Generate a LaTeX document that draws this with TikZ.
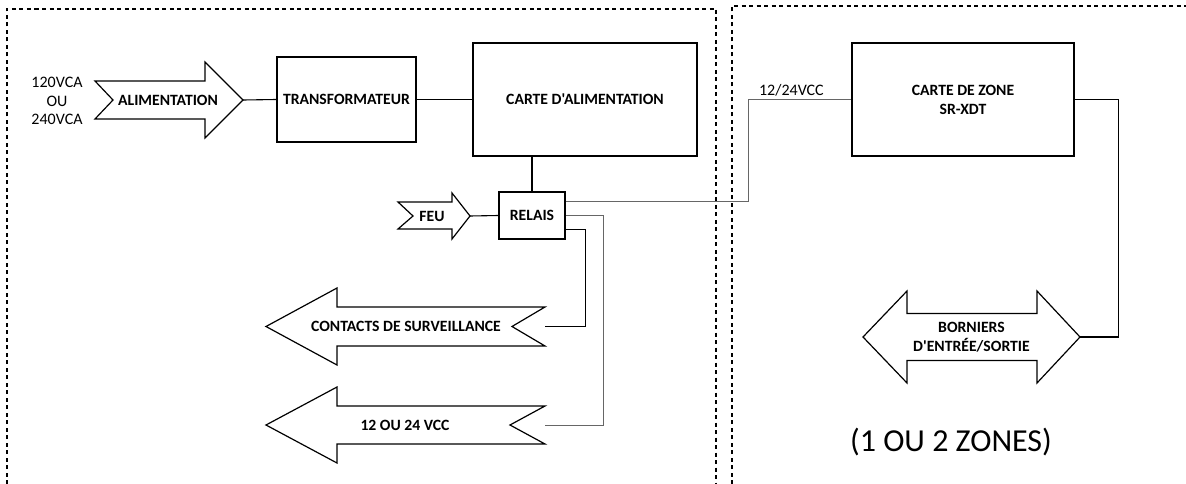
\documentclass[tikz,border=0pt]{standalone}
\usepackage{fontspec}
\setmainfont{Carlito}[Ligatures=TeXOff]
\usetikzlibrary{positioning, calc}

\begin{document}
\begin{tikzpicture}[x=1pt, y=-1pt, font=\fontsize{15.7}{19}\selectfont\bfseries,
  bloc/.style={rectangle, draw, line width=1.2pt, align=center, inner sep=0pt},
  fleche/.style={draw, fill=white, line width=1.2pt, line join=miter},
  texte/.style={font=\fontsize{16}{18.5}\selectfont, align=center},
  fil/.style={line width=1.1pt},
  filgris/.style={line width=1pt, draw=black!60},
  zone/.style={line width=1.1pt, dash pattern=on 4pt off 3.5pt}]
  \useasboundingbox (0,0) rectangle (1186,484);

  % les deux zones en pointille
  \draw[zone] (7,484) -- (7,9) -- (716,9) -- (716,484);
  \draw[zone] (732,484) -- (732,6) -- (1186,6);

  \node[bloc, minimum width=139pt, minimum height=85pt] (transfo) at (346.5,99.5) {TRANSFORMATEUR};
  \node[bloc, minimum width=224pt, minimum height=113pt] (cartealim) at (585,99.5) {CARTE D'ALIMENTATION};
  \node[bloc, minimum width=66pt, minimum height=47pt] (relais) at (532,215.5) {RELAIS};
  \node[bloc, minimum width=222pt, minimum height=113pt] (cartezone) at (963,99.5) {CARTE DE ZONE\\SR-XDT};

  % fleches
  \draw[fleche] (95,81) -- (205,81) -- (205,62) -- (243,100) coordinate (alim-tip) -- (205,138) -- (205,119) -- (95,119) -- (113,100) -- cycle;
  \node (alim) at (168,100) {ALIMENTATION};
  \node[texte] (entree) at (57,101) {120VCA\\OU\\240VCA};
  \draw[fleche] (398,202) -- (452,202) -- (452,193) -- (470,216) coordinate (feu-tip) -- (452,239) -- (452,229) -- (398,229) -- (413,216) -- cycle;
  \node (feu) at (432,216) {FEU};
  \draw[fleche] (266,326.5) -- (337,288) -- (337,307) -- (545,307) -- (512,326.5) -- (545,346) -- (337,346) -- (337,365) -- cycle;
  \coordinate (cont-tail) at (545,326.5);
  \node (cont) at (406,326.5) {CONTACTS DE SURVEILLANCE};
  \draw[fleche] (266,425) -- (337,387) -- (337,406) -- (545,406) -- (510,425) -- (545,444) -- (337,444) -- (337,463) -- cycle;
  \coordinate (vcc-tail) at (545,425);
  \node (vcc) at (405,425) {12 OU 24 VCC};
  \draw[fleche] (863,337) -- (907,291) -- (907,313.5) -- (1037,313.5) -- (1037,291) -- (1080,337) coordinate (born-tip) -- (1037,383) -- (1037,360.5) -- (907,360.5) -- (907,383) -- cycle;
  \node[align=center] (born) at (971.5,337) {BORNIERS\\D'ENTRÉE/SORTIE};
  \node[font=\fontsize{32}{38}\selectfont] (nbzones) at (951,442) {(1 OU 2 ZONES)};

  % liaisons
  \coordinate (coude) at (748,99.5);
  \draw[fil] (alim-tip) -- (transfo.west);
  \draw[fil] (transfo.east) -- (cartealim.west);
  \draw[fil] (relais.north) -- (relais.north |- cartealim.south);
  \draw[fil] (feu-tip) -- (relais.west);
  \draw[filgris] ([yshift=-10pt]relais.north east) -| (coude) -- (cartezone.west)
    node[texte, pos=0.42, above, inner sep=3pt] {12/24VCC};
  \draw[filgris] (relais.east) -- ++(38,0) |- (vcc-tail);
  \draw[fil] ([yshift=10pt]relais.south east) -- ++(20,0) |- (cont-tail);
  \draw[fil] (cartezone.east) -- ++(44,0) |- (born-tip);
\end{tikzpicture}
\end{document}
